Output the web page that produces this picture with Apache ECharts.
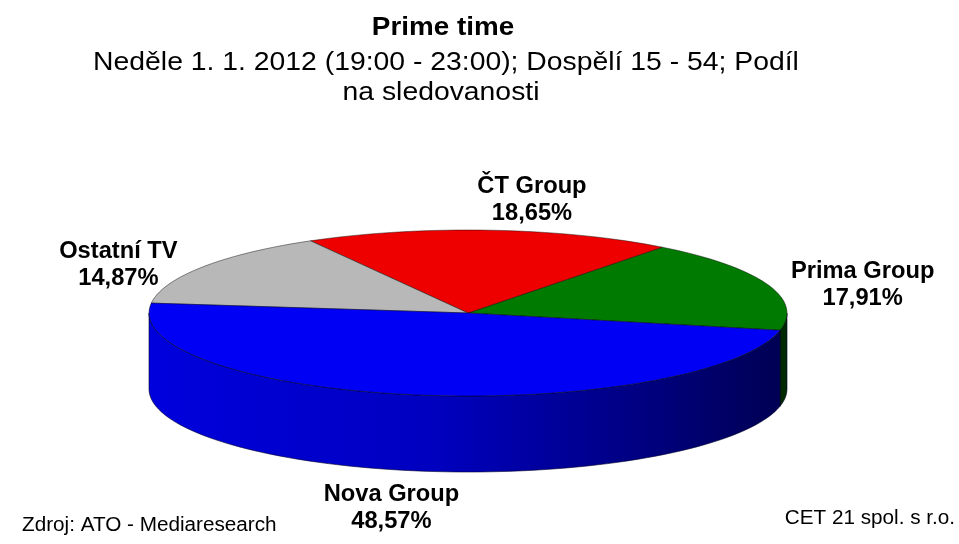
<!DOCTYPE html>
<html>
<head>
	<meta charset="utf-8" />
	<title>Prime time</title>
	<script type="text/javascript" src="https://cdn.jsdelivr.net/npm/echarts@6/dist/echarts.min.js"></script>
	<style>
		html, body {margin:0;padding:0;background:#fff;}
		#chart {width:959px;height:544px;}
	</style>
</head>
<body>
	<div id="chart"></div>
	<script>
		// podíl na sledovanosti, pořadí proti směru hodinových ručiček
		var names  = ['Prima Group', 'ČT Group', 'Ostatní TV', 'Nova Group'];
		var shares = [17.91, 18.65, 14.87, 48.57];
		var startAngle = -12;

		var FONT = 'Liberation Sans, Arial, sans-serif';
		var STRETCH = 1.03; // předloha je mírně roztažená do šířky

		// drobné posuny popisků (Excel je nerozmísťuje přesně radiálně)
		var labelNudge = {
			'Prima Group': [-2, 5],
			'ČT Group':    [36, 6],
			'Ostatní TV':  [-8, 9],
			'Nova Group':  [-8, 2]
		};

		var chart;

		function shade(hex, k) {
			var n = parseInt(hex.slice(1), 16);
			var r = Math.round(((n >> 16) & 255) * k);
			var g = Math.round(((n >> 8) & 255) * k);
			var b = Math.round((n & 255) * k);
			return 'rgb(' + r + ',' + g + ',' + b + ')';
		}

		function textWidth(lines, font) {
			var ctx = document.createElement('canvas').getContext('2d');
			ctx.font = font;
			return Math.max.apply(null, lines.map(l => ctx.measureText(l).width));
		}

		function buildData() {
			var total = shares.reduce((a, b) => a + b, 0);
			var a = startAngle;
			return names.map((n, i) => {
				var span = shares[i] / total * 360;
				var item = {name: n, value: [shares[i], a, a + span]};
				a += span;
				return item;
			});
		}

		function renderItem(params, api) {
			var cx = 468, cy = 313, rx = 319, ry = 83, depth = 76;
			var a0 = api.value(1), a1 = api.value(2);
			var color = api.visual('color');

			function pt(deg, dy) {
				var t = deg * Math.PI / 180;
				return [cx + rx * Math.cos(t), cy - ry * Math.sin(t) + (dy || 0)];
			}
			function arc(from, to, dy) {
				var pts = [];
				var n = Math.max(2, Math.ceil(Math.abs(to - from) / 2));
				for (var k = 0; k <= n; k++) pts.push(pt(from + (to - from) * k / n, dy));
				return pts;
			}

			var children = [];

			// přední stěna (vidět je jen spodní polovina elipsy)
			[-360, 0, 360].forEach(off => {
				var lo = Math.max(a0, 180 + off), hi = Math.min(a1, 360 + off);
				if (hi - lo > 0.01) {
					children.push({
						type: 'polygon',
						z2: 1,
						shape: {points: arc(lo, hi, 0).concat(arc(hi, lo, depth))},
						style: {
							fill: {
								type: 'linear', global: true,
								x: cx - rx, y: 0, x2: cx + rx, y2: 0,
								colorStops: [
									{offset: 0, color: shade(color, 0.9)},
									{offset: 0.45, color: shade(color, 0.78)},
									{offset: 0.8, color: shade(color, 0.5)},
									{offset: 1, color: shade(color, 0.33)}
								]
							},
							stroke: 'rgba(0,0,40,0.75)',
							lineWidth: 0.8
						}
					});
				}
			});

			// horní plocha výseče
			children.push({
				type: 'polygon',
				z2: 10,
				shape: {points: [[cx, cy]].concat(arc(a0, a1, 0))},
				style: {fill: color, stroke: 'rgba(0,0,0,0.55)', lineWidth: 0.8}
			});

			// popisek
			var name = names[params.dataIndex];
			var pct = api.value(0).toFixed(2).replace('.', ',') + '%';
			var mid = (a0 + a1) / 2;
			var c = Math.cos(mid * Math.PI / 180), s = Math.sin(mid * Math.PI / 180);
			var rim = pt(mid, s < 0 ? depth : 0);
			var font = 'bold 23px ' + FONT;
			var halfW = textWidth([name, pct], font) * STRETCH / 2;
			var nudge = labelNudge[name] || [0, 0];
			var lx = rim[0] + c * (halfW + 32) + nudge[0];
			var ly = rim[1] - s * Math.abs(s) * 36 + nudge[1];

			children.push({
				type: 'text',
				z2: 20,
				x: lx,
				y: ly,
				scaleX: STRETCH,
				style: {
					text: name + '\n' + pct,
					font: font,
					fill: '#000',
					align: 'center',
					verticalAlign: 'middle',
					lineHeight: 27
				}
			});

			return {type: 'group', children: children};
		}

		function txt(text, x, y, size, opts) {
			opts = opts || {};
			return {
				type: 'text',
				x: x,
				y: y,
				scaleX: opts.scaleX || 1,
				silent: true,
				style: {
					text: text,
					font: (opts.bold ? 'bold ' : '') + size + 'px ' + FONT,
					fill: '#000',
					align: opts.align || 'center',
					verticalAlign: 'middle'
				}
			};
		}

		function fnChart() {
			var dom = document.getElementById('chart');
			chart = echarts.init(dom, null, {renderer: 'canvas'});

			var option = {
				animation: false,
				color: ['#007a00', '#ee0000', '#b8b8b8', '#0000f5'],
				textStyle: {fontFamily: FONT},
				graphic: [
					txt('Prime time', 443, 28, 26, {bold: true, scaleX: 1.07}),
					txt('Neděle 1. 1. 2012 (19:00 - 23:00); Dospělí 15 - 54; Podíl', 446, 63, 26, {scaleX: 1.09}),
					txt('na sledovanosti', 441, 93, 26, {scaleX: 1.09}),
					txt('Zdroj: ATO - Mediaresearch', 22, 525, 20, {align: 'left', scaleX: 1.035}),
					txt('CET 21 spol. s r.o.', 955, 518, 20, {align: 'right', scaleX: 1.035})
				],
				series: [
					{
						type: 'custom',
						coordinateSystem: 'none',
						colorBy: 'data',
						silent: true,
						renderItem: renderItem,
						data: buildData()
					}
				]
			};

			chart.setOption(option);
		}

		fnChart();
	</script>
</body>
</html>
